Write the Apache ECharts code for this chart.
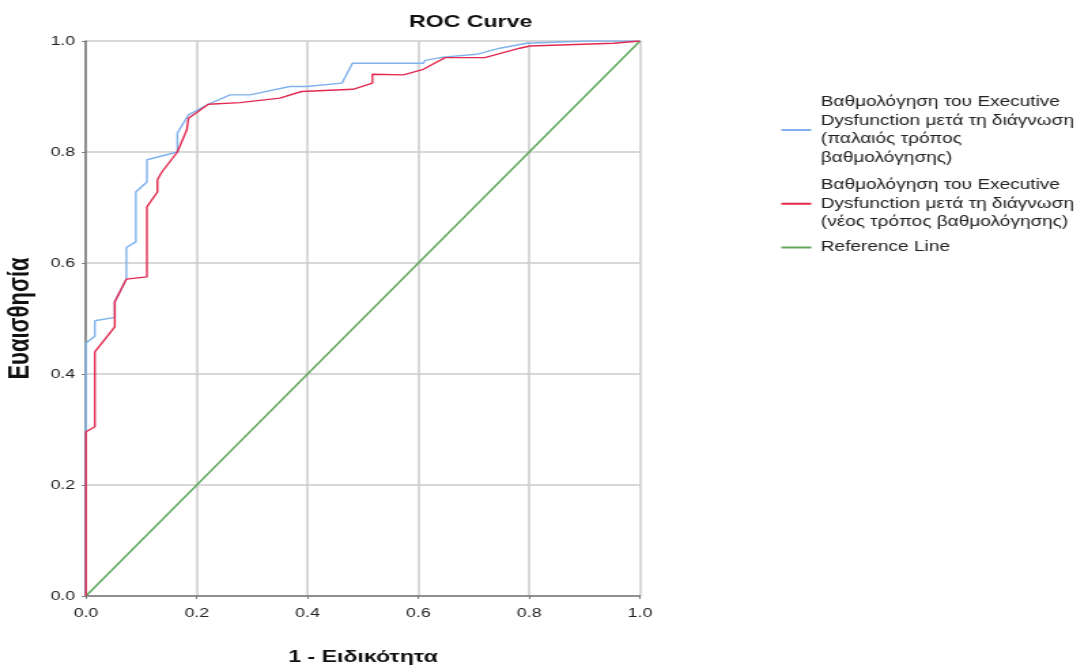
<!DOCTYPE html>
<html>
<head>
<meta charset="utf-8">
<script src="https://cdn.jsdelivr.net/npm/echarts@6/dist/echarts.min.js"></script>
<style>
  html, body { margin: 0; padding: 0; background: #fff; overflow: hidden; }
  #frame { position: relative; width: 1077px; height: 668px; overflow: hidden; }
  /* the chart is laid out narrower and widened horizontally to fill the frame */
  #chart { position: absolute; left: 0; top: 0; width: 790px; height: 668px; transform: scaleX(1.36); transform-origin: 0 0; }
</style>
</head>
<body>
<div id="frame"><div id="chart"></div></div>
<script>
// ROC curve points: false positive rate (1 - specificity) and sensitivity
const fprOld = [0, 0, 0.016, 0.016, 0.052, 0.052, 0.073, 0.073, 0.090, 0.090, 0.110, 0.110, 0.165, 0.165, 0.185, 0.221, 0.260, 0.296, 0.368, 0.398, 0.462, 0.481, 0.609, 0.612, 0.645, 0.705, 0.747, 0.795, 0.904, 1.0];
const tprOld = [0, 0.456, 0.468, 0.496, 0.502, 0.530, 0.571, 0.628, 0.638, 0.728, 0.746, 0.786, 0.800, 0.834, 0.867, 0.886, 0.903, 0.903, 0.918, 0.918, 0.924, 0.960, 0.960, 0.965, 0.971, 0.976, 0.987, 0.996, 1.0, 1.0];

const fprNew = [0, 0, 0.016, 0.016, 0.052, 0.052, 0.073, 0.110, 0.110, 0.129, 0.129, 0.137, 0.165, 0.182, 0.185, 0.221, 0.278, 0.350, 0.389, 0.482, 0.517, 0.517, 0.573, 0.609, 0.648, 0.720, 0.783, 0.801, 0.952, 1.0];
const tprNew = [0, 0.296, 0.305, 0.440, 0.485, 0.530, 0.571, 0.575, 0.701, 0.728, 0.750, 0.764, 0.800, 0.840, 0.861, 0.886, 0.889, 0.897, 0.909, 0.913, 0.924, 0.940, 0.939, 0.949, 0.970, 0.970, 0.987, 0.991, 0.996, 1.0];

const refLine = [[0, 0], [1, 1]];

const axisTicks = [0, 0.2, 0.4, 0.6, 0.8, 1.0];

const seriesNames = [
  'Βαθμολόγηση του Executive\nDysfunction μετά τη διάγνωση\n(παλαιός τρόπος\nβαθμολόγησης)',
  'Βαθμολόγηση του Executive\nDysfunction μετά τη διάγνωση\n(νέος τρόπος βαθμολόγησης)',
  'Reference Line'
];

const zip = (xs, ys) => xs.map((x, i) => [x, ys[i]]);

const FONT = '"Liberation Sans", Arial, sans-serif';
const tickText = v => axisTicks.find(t => Math.abs(t - v) < 1e-9).toFixed(1);

const valueAxis = (name, extra) => Object.assign({
  type: 'value',
  min: 0,
  max: 1,
  interval: 0.2,
  name: name,
  nameLocation: 'middle',
  nameTextStyle: { fontFamily: FONT, fontSize: 17, fontWeight: 'bold', color: '#111' },
  axisLine: { show: true, lineStyle: { color: '#777', width: 1.5 } },
  axisTick: { show: true, length: 3, lineStyle: { color: '#777' } },
  axisLabel: { fontFamily: FONT, fontSize: 13, color: '#222', formatter: tickText },
  splitLine: { show: true, lineStyle: { color: '#cbcbcb', width: 1.5 } }
}, extra);

const chart = echarts.init(document.getElementById('chart'), null, { renderer: 'canvas' });

chart.setOption({
  backgroundColor: '#fff',
  animation: false,
  title: {
    text: 'ROC Curve',
    left: 341,
    top: 9,
    textAlign: 'center',
    textStyle: { fontFamily: FONT, fontSize: 17, fontWeight: 'bold', color: '#111' }
  },
  grid: { left: 63.2, right: 319.4, top: 41, bottom: 72, outerBoundsMode: 'none', containLabel: false },
  xAxis: valueAxis('1 - Ειδικότητα', {
    nameGap: 53,
    axisLabel: { fontFamily: FONT, fontSize: 13, color: '#222', margin: 11, formatter: tickText }
  }),
  yAxis: valueAxis('Ευαισθησία', {
    nameGap: 34,
    nameTextStyle: { fontFamily: FONT, fontSize: 22, fontWeight: 'bold', color: '#111' }
  }),
  legend: {
    orient: 'vertical',
    left: 569.5,
    top: 88,
    itemWidth: 22,
    itemHeight: 2,
    itemGap: 9,
    icon: 'rect',
    textStyle: { fontFamily: FONT, fontSize: 14, color: '#222', lineHeight: 18.5, padding: [0, 0, 0, 2] },
    data: [
      { name: seriesNames[0] },
      { name: seriesNames[1] },
      { name: seriesNames[2], textStyle: { lineHeight: 12 } }
    ]
  },
  series: [
    {
      name: seriesNames[0], type: 'line', data: zip(fprOld, tprOld),
      showSymbol: false, symbol: 'none',
      lineStyle: { color: '#7fb2ee', width: 1.4 }, itemStyle: { color: '#7fb2ee' }, z: 3
    },
    {
      name: seriesNames[1], type: 'line', data: zip(fprNew, tprNew),
      showSymbol: false, symbol: 'none',
      lineStyle: { color: '#e3294f', width: 1.4 }, itemStyle: { color: '#e3294f' }, z: 4
    },
    {
      name: seriesNames[2], type: 'line', data: refLine,
      showSymbol: false, symbol: 'none',
      lineStyle: { color: '#5da65a', width: 1.4 }, itemStyle: { color: '#5da65a' }, z: 2
    }
  ]
});
</script>
</body>
</html>
